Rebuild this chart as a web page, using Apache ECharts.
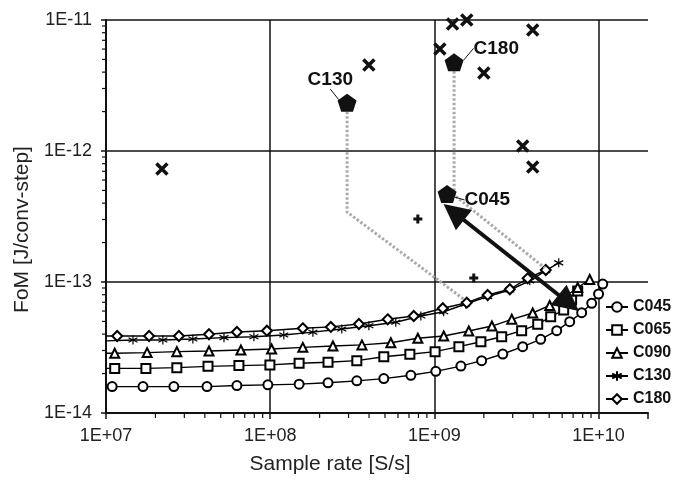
<!DOCTYPE html>
<html>
<head>
<meta charset="utf-8">
<script src="https://cdn.jsdelivr.net/npm/echarts@6/dist/echarts.min.js"></script>
<style>
  html, body { margin: 0; padding: 0; background: #fff; }
  #chart { width: 691px; height: 485px; }
</style>
</head>
<body>
<div id="chart"></div>
<script>
const FONT = "'Liberation Sans', Arial, sans-serif";

// FoM values are tiny, so the y axis works in units of 1E-14
const Y_UNIT = 1e-14;

// [sample rate, FoM]; first point starts the line at the axis
const c045 = [[1e7,1.59e-14],[1.09e7,1.59e-14],[1.68e7,1.59e-14],[2.59e7,1.59e-14],[4.12e7,1.59e-14],[6.27e7,1.62e-14],[9.68e7,1.64e-14],[1.5e8,1.66e-14],[2.25e8,1.70e-14],[3.37e8,1.76e-14],[4.92e8,1.83e-14],[7.19e8,1.94e-14],[1.02e9,2.08e-14],[1.45e9,2.28e-14],[1.94e9,2.51e-14],[2.61e9,2.82e-14],[3.45e9,3.21e-14],[4.44e9,3.65e-14],[5.56e9,4.25e-14],[6.67e9,4.98e-14],[7.89e9,5.83e-14],[9.08e9,6.88e-14],[1.0e10,8.10e-14],[1.06e10,9.65e-14]];
const c065 = [[1e7,2.19e-14],[1.13e7,2.19e-14],[1.75e7,2.19e-14],[2.70e7,2.22e-14],[4.18e7,2.27e-14],[6.45e7,2.30e-14],[9.96e7,2.33e-14],[1.5e8,2.40e-14],[2.25e8,2.44e-14],[3.37e8,2.51e-14],[4.92e8,2.69e-14],[7.09e8,2.81e-14],[1.01e9,2.94e-14],[1.41e9,3.21e-14],[1.92e9,3.50e-14],[2.57e9,3.82e-14],[3.40e9,4.25e-14],[4.26e9,4.75e-14],[5.11e9,5.43e-14],[6.13e9,6.11e-14],[6.85e9,7.29e-14],[7.46e9,8.54e-14]];
const c090 = [[1e7,2.86e-14],[1.13e7,2.86e-14],[1.78e7,2.89e-14],[2.70e7,2.94e-14],[4.24e7,2.97e-14],[6.63e7,3.03e-14],[1.02e8,3.08e-14],[1.58e8,3.17e-14],[2.41e8,3.25e-14],[3.62e8,3.31e-14],[5.43e8,3.44e-14],[7.93e8,3.72e-14],[1.14e9,3.87e-14],[1.62e9,4.23e-14],[2.24e9,4.61e-14],[2.96e9,5.19e-14],[3.97e9,5.80e-14],[5.04e9,6.62e-14],[6.22e9,7.69e-14],[7.46e9,9.08e-14],[8.83e9,1.045e-13]];
const c130 = [[1e7,3.55e-14],[1.46e7,3.61e-14],[2.22e7,3.61e-14],[3.38e7,3.67e-14],[5.23e7,3.76e-14],[7.96e7,3.82e-14],[1.21e8,3.94e-14],[1.82e8,4.14e-14],[2.73e8,4.38e-14],[3.99e8,4.64e-14],[5.82e8,4.93e-14],[8.27e8,5.50e-14],[1.14e9,5.93e-14],[1.55e9,6.79e-14],[2.11e9,7.73e-14],[2.88e9,8.69e-14],[3.81e9,1.02e-13],[4.77e9,1.22e-13],[5.72e9,1.40e-13]];
const c180 = [[1e7,3.87e-14],[1.17e7,3.87e-14],[1.83e7,3.87e-14],[2.78e7,3.87e-14],[4.24e7,3.99e-14],[6.27e7,4.15e-14],[9.55e7,4.25e-14],[1.58e8,4.43e-14],[2.34e8,4.54e-14],[3.47e8,4.78e-14],[5.20e8,5.19e-14],[7.49e8,5.50e-14],[1.125e9,6.30e-14],[1.575e9,6.95e-14],[2.11e9,7.96e-14],[2.88e9,8.80e-14],[3.70e9,1.067e-13],[4.77e9,1.235e-13]];

const curveNames = ['C045', 'C065', 'C090', 'C130', 'C180'];

// published converters
const crossPts = [[2.19e7,7.29e-13],[3.99e8,4.53e-12],[1.08e9,6.0e-12],[1.29e9,9.32e-12],[1.575e9,1.0e-11],[3.97e9,8.39e-12],[2.0e9,3.94e-12],[3.45e9,1.09e-12],[3.97e9,7.55e-13]];
const plusPts = [[7.93e8,3.03e-13],[1.737e9,1.073e-13]];

// technology nodes
const nodeNames = ['C130', 'C180', 'C045'];
const nodePts = [[2.94e8,2.34e-12],[1.318e9,4.75e-12],[1.195e9,4.70e-13]];

// gray projections and the arrow
const path130 = [[2.94e8,2.34e-12],[2.94e8,3.42e-13],[1.53e9,7.3e-14]];
const path180 = [[1.318e9,4.75e-12],[1.318e9,4.61e-13],[4.70e9,1.28e-13]];
const arrowPts = [[1.312e9,3.42e-13],[6.58e9,6.92e-14]];

const xTickLabels = ['1E+07', '1E+08', '1E+09', '1E+10'];
const yTickLabels = ['1E-14', '1E-13', '1E-12', '1E-11'];

function scaled(pts) {
    return pts.map(p => [p[0], p[1] / Y_UNIT]);
}

// minor tick positions 2..9 inside each decade
const minorX = [];
for (let k = 7; k <= 9; k++) for (let m = 2; m <= 9; m++) minorX.push([m * Math.pow(10, k), 1]);
const minorY = [];
for (let k = 0; k <= 2; k++) for (let m = 2; m <= 9; m++) minorY.push([1e7, m * Math.pow(10, k)]);

const symbols = {
    C045: 'emptyCircle',
    C065: 'emptyRect',
    C090: 'emptyTriangle',
    C130: 'path://M5,0L5,10M0.7,2.5L9.3,7.5M0.7,7.5L9.3,2.5',
    C180: 'emptyDiamond'
};
const curves = { C045: c045, C065: c065, C090: c090, C130: c130, C180: c180 };

const curveSeries = curveNames.map(name => ({
    name,
    type: 'line',
    data: scaled(curves[name]).map((v, i) => i === 0 ? { value: v, symbol: 'none' } : v),
    symbol: symbols[name],
    symbolSize: name === 'C180' ? 10 : 9,
    color: '#000',
    lineStyle: { color: '#000', width: 1.4 },
    itemStyle: { color: '#000', borderColor: '#000', borderWidth: 1.2 },
    z: 3
}));

function xLabel(v) {
    const e = Math.log10(v);
    if (Math.abs(e - Math.round(e)) > 1e-6) return '';
    const i = Math.round(e) - 7;
    return xTickLabels[i] || '';
}
function yLabel(v) {
    const e = Math.log10(v);
    if (Math.abs(e - Math.round(e)) > 1e-6) return '';
    return yTickLabels[Math.round(e)] || '';
}

const chart = echarts.init(document.getElementById('chart'));

chart.setOption({
    animation: false,
    backgroundColor: '#fff',
    textStyle: { fontFamily: FONT },
    grid: { left: 106, right: 43, top: 20, bottom: 72 },
    legend: {
        data: curveNames,
        orient: 'vertical',
        left: 600,
        top: 294,
        itemWidth: 22,
        itemHeight: 12,
        itemGap: 7,
        textStyle: { fontFamily: FONT, fontSize: 16, fontWeight: 'bold', color: '#111' }
    },
    xAxis: {
        type: 'log',
        logBase: 10,
        min: 1e7,
        max: 2e10,
        name: 'Sample rate [S/s]',
        nameLocation: 'middle',
        nameGap: 41,
        nameTextStyle: { fontFamily: FONT, fontSize: 21, color: '#222', padding: [0, 94, 0, 0] },
        axisLine: { lineStyle: { color: '#111', width: 2 } },
        axisTick: { show: true, length: 6, lineStyle: { color: '#111', width: 1.5 } },
        axisLabel: { formatter: xLabel, fontFamily: FONT, fontSize: 18, color: '#222', margin: 14 },
        splitLine: { show: true, showMaxLine: false, lineStyle: { color: '#111', width: 1.5 } }
    },
    yAxis: {
        type: 'log',
        logBase: 10,
        min: 1,
        max: 1000,
        name: 'FoM [J/conv-step]',
        nameLocation: 'middle',
        nameGap: 72,
        nameTextStyle: { fontFamily: FONT, fontSize: 21, color: '#222', padding: [0, 26, 0, 0] },
        axisLine: { lineStyle: { color: '#111', width: 2 } },
        axisTick: { show: true, length: 5, lineStyle: { color: '#111', width: 1.5 } },
        axisLabel: { formatter: yLabel, fontFamily: FONT, fontSize: 18, color: '#222', margin: 14 },
        splitLine: { show: true, lineStyle: { color: '#111', width: 1.5 } }
    },
    series: [
        {
            type: 'custom',
            silent: true,
            clip: false,
            data: minorX,
            renderItem(params, api) {
                const p = api.coord([api.value(0), api.value(1)]);
                return { type: 'line', shape: { x1: p[0], y1: p[1], x2: p[0], y2: p[1] + 5 },
                    style: { stroke: '#111', lineWidth: 1.2 } };
            },
            z: 1
        },
        {
            type: 'custom',
            silent: true,
            clip: false,
            data: minorY,
            renderItem(params, api) {
                const p = api.coord([api.value(0), api.value(1)]);
                return { type: 'line', shape: { x1: p[0] - 4, y1: p[1], x2: p[0], y2: p[1] },
                    style: { stroke: '#111', lineWidth: 1.2 } };
            },
            z: 1
        },
        ...curveSeries,
        {
            type: 'line',
            data: scaled(path130),
            symbol: 'none',
            silent: true,
            lineStyle: { color: '#aaa', width: 3, type: [2.5, 2] },
            z: 4
        },
        {
            type: 'line',
            data: scaled(path180),
            symbol: 'none',
            silent: true,
            lineStyle: { color: '#aaa', width: 3, type: [2.5, 2] },
            z: 4
        },
        {
            type: 'scatter',
            data: scaled(crossPts),
            clip: false,
            symbol: 'path://M0,0L10,10M0,10L10,0',
            symbolSize: 11,
            itemStyle: { color: '#111', borderColor: '#111', borderWidth: 3.5, opacity: 1 },
            z: 5
        },
        {
            type: 'scatter',
            data: scaled(plusPts),
            clip: false,
            symbol: 'path://M5,0L5,10M0,5L10,5',
            symbolSize: 9,
            itemStyle: { color: '#111', borderColor: '#111', borderWidth: 3, opacity: 1 },
            z: 5
        },
        {
            type: 'scatter',
            data: scaled(nodePts).map((v, i) => ({ name: nodeNames[i], value: v })),
            symbol: 'path://M5,0L10,3.8L8.1,10L1.9,10L0,3.8Z',
            symbolSize: [19, 18],
            itemStyle: { color: '#111', opacity: 1 },
            label: {
                show: true,
                formatter: '{b}',
                position: 'right',
                fontFamily: FONT,
                fontSize: 19,
                fontWeight: 'bold',
                color: '#111'
            },
            labelLine: { show: true, lineStyle: { color: '#111', width: 1 } },
            labelLayout(params) {
                const offs = [[-54, -23], [5, -14], [3, 6]];
                return { dx: offs[params.dataIndex][0], dy: offs[params.dataIndex][1] };
            },
            z: 6
        },
        {
            type: 'lines',
            coordinateSystem: 'cartesian2d',
            silent: true,
            symbol: ['triangle', 'triangle'],
            symbolSize: 26,
            lineStyle: { color: '#111', width: 4, opacity: 1 },
            data: [{ coords: scaled(arrowPts) }],
            z: 7
        }
    ]
});
</script>
</body>
</html>
